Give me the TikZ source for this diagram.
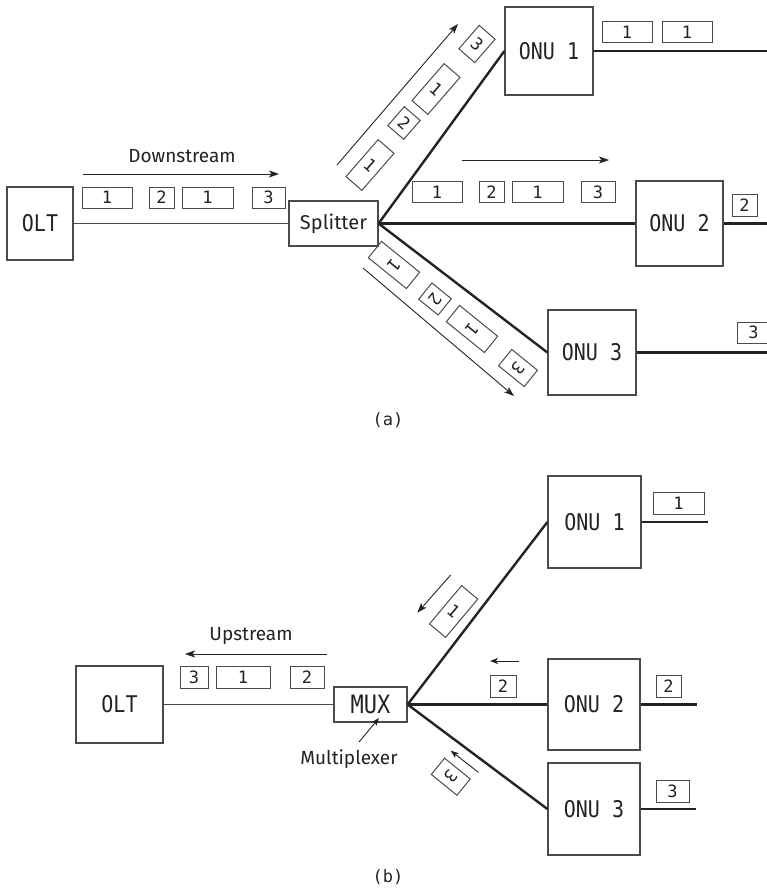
\documentclass[tikz,border=0pt]{standalone}
\usepackage{graphicx}
\usepackage{fontspec}
\setmainfont{Fira Sans}
\newfontfamily\monof{DejaVu Sans Mono}
\usetikzlibrary{arrows.meta}
\definecolor{ink}{RGB}{35,35,35}
\definecolor{boxc}{RGB}{75,75,75}
\newcommand{\devlab}[1]{\scalebox{1}[1.15]{#1}}
\begin{document}
\begin{tikzpicture}[x=1pt,y=-1pt,
  devbox/.style n args={2}{draw=boxc,line width=1.2pt,minimum width=#1,minimum height=#2,
    inner sep=0pt,font=\monof\fontsize{20}{20}\selectfont,text=ink},
  pkt/.style={draw=boxc,line width=1pt,minimum width=#1,minimum height=21pt,inner sep=0pt,
    font=\monof\fontsize{17}{17}\selectfont,text=ink},
  dpkt/.style n args={2}{pkt=#1,rotate=#2},
  thinl/.style={draw=boxc,line width=1.1pt},
  thickl/.style={draw=ink,line width=2.4pt},
  arr/.style={draw=ink,line width=0.9pt,-{Stealth[length=10pt,width=7pt,inset=2.5pt]}},
  lbl/.style={font=\fontsize{19}{19}\selectfont,text=ink,inner sep=0pt},
  figcap/.style={font=\monof\fontsize{17}{17}\selectfont,text=ink,inner sep=0pt}]
\useasboundingbox (0,0) rectangle (766,888);

% ================= (a) =================
\node[devbox={66pt}{73pt}] (OLTa) at (40,223.5) {\devlab{OLT}};
\node[devbox={89pt}{45pt},font=\fontsize{20}{20}\selectfont] (SPL) at (333.5,223.5) {Splitter};
\node[devbox={88pt}{88pt}] (ONU1a) at (549,51) {\devlab{ONU 1}};
\node[devbox={87pt}{85pt}] (ONU2a) at (679.5,223.5) {\devlab{ONU 2}};
\node[devbox={88pt}{85pt}] (ONU3a) at (592,352.5) {\devlab{ONU 3}};

\coordinate (E1a) at (770,51);
\coordinate (E2a) at (770,223.5);
\coordinate (E3a) at (770,352.5);

\draw[thinl] (OLTa.east) -- (SPL.west);
\draw[thickl] (SPL.east) -- (ONU1a.west);
\draw[thickl] (SPL.east) -- (ONU2a.west);
\draw[thickl] (SPL.east) -- (ONU3a.west);
\draw[thickl] (ONU1a.east) -- (E1a);
\draw[thickl] (ONU2a.east) -- (E2a);
\draw[thickl] (ONU3a.east) -- (E3a);

% downstream label and arrow
\node[lbl] (DS) at (182,156) {Downstream};
\coordinate (a1s) at (83,174);
\coordinate (a1e) at (279,174);
\draw[arr] (a1s) -- (a1e);

% packets OLT -> splitter
\node[pkt=50pt] (pa1) at (107,197.5) {1};
\node[pkt=25pt] (pa2) at (161.5,197.5) {2};
\node[pkt=51pt] (pa3) at (207.5,197.5) {1};
\node[pkt=33pt] (pa4) at (268.5,197.5) {3};

% upper branch packets
\node[dpkt={49pt}{49}] (pu1) at (370,165) {\rotatebox{-90}{1}};
\node[dpkt={25pt}{49}] (pu2) at (404,123) {\rotatebox{-90}{2}};
\node[dpkt={49pt}{49}] (pu3) at (436,89) {\rotatebox{-90}{1}};
\node[dpkt={31pt}{49}] (pu4) at (477,44) {\rotatebox{-90}{3}};
\coordinate (a2s) at (337,165);
\coordinate (a2e) at (458,24);
\draw[arr] (a2s) -- (a2e);

% middle branch packets
\coordinate (a3s) at (462,160);
\coordinate (a3e) at (609,160);
\draw[arr] (a3s) -- (a3e);
\node[pkt=50pt] (pm1) at (437,192) {1};
\node[pkt=25pt] (pm2) at (491.5,192) {2};
\node[pkt=51pt] (pm3) at (537.5,192) {1};
\node[pkt=34pt] (pm4) at (598,192) {3};

% lower branch packets
\node[dpkt={49pt}{-39}] (pl1) at (394,265) {\rotatebox{-90}{1}};
\node[dpkt={25pt}{-39}] (pl2) at (435,299) {\rotatebox{-90}{2}};
\node[dpkt={49pt}{-39}] (pl3) at (472,329) {\rotatebox{-90}{1}};
\node[dpkt={33pt}{-39}] (pl4) at (518,368) {\rotatebox{-90}{3}};
\coordinate (a4s) at (363,268);
\coordinate (a4e) at (514,396);
\draw[arr] (a4s) -- (a4e);

% packets after ONUs
\node[pkt=50pt] (po1) at (627,32.5) {1};
\node[pkt=50pt] (po2) at (687,32.5) {1};
\node[pkt=25pt,minimum height=22pt] (po3) at (744.5,205) {2};
\node[pkt=33pt] (po4) at (753.5,332.5) {3};

\node[figcap] (capa) at (388,420) {(a)};

% ================= (b) =================
\node[devbox={87pt}{77pt}] (OLTb) at (119.5,704.5) {\devlab{OLT}};
\node[devbox={73pt}{35pt},font=\monof\fontsize{22}{22}\selectfont] (MUX) at (370.5,704.5) {\devlab{MUX}};
\node[devbox={93pt}{92pt}] (ONU1b) at (594.5,522) {\devlab{ONU 1}};
\node[devbox={92pt}{91pt}] (ONU2b) at (594,704.5) {\devlab{ONU 2}};
\node[devbox={92pt}{92pt}] (ONU3b) at (594,809) {\devlab{ONU 3}};

\coordinate (E1b) at (708,522);
\coordinate (E2b) at (697,704.5);
\coordinate (E3b) at (696,809);

\draw[thinl] (OLTb.east) -- (MUX.west);
\draw[thickl] (MUX.east) -- (ONU1b.west);
\draw[thickl] (MUX.east) -- (ONU2b.west);
\draw[thickl] (MUX.east) -- (ONU3b.west);
\draw[thickl] (ONU1b.east) -- (E1b);
\draw[thickl] (ONU2b.east) -- (E2b);
\draw[thickl] (ONU3b.east) -- (E3b);

% upstream label and arrow
\node[lbl] (US) at (251,636) {Upstream};
\coordinate (b1s) at (327,654);
\coordinate (b1e) at (185,654);
\draw[arr] (b1s) -- (b1e);

\node[pkt=28pt,minimum height=22pt] (qb1) at (194,677) {3};
\node[pkt=54pt,minimum height=22pt] (qb2) at (243,677) {1};
\node[pkt=34pt,minimum height=22pt] (qb3) at (307,677) {2};

% multiplexer label
\node[lbl] (MX) at (349,759) {Multiplexer};
\coordinate (b5s) at (359,742);
\coordinate (b5e) at (379,718);
\draw[arr,-{Stealth[length=8pt,width=6pt,inset=2pt]}] (b5s) -- (b5e);

% branch packets
\node[dpkt={50pt}{50}] (qu1) at (453.6,611.5) {\rotatebox{-90}{1}};
\coordinate (b2s) at (450.7,575);
\coordinate (b2e) at (417.3,612.7);
\draw[arr] (b2s) -- (b2e);

\coordinate (b3s) at (519,661);
\coordinate (b3e) at (490,661);
\draw[arr,-{Stealth[length=8pt,width=6pt,inset=2pt]}] (b3s) -- (b3e);
\node[pkt=26pt,minimum height=22pt] (qm1) at (503,686) {2};

\node[dpkt={33pt}{-39}] (ql1) at (450.75,776.7) {\rotatebox{-90}{3}};
\coordinate (b4s) at (478.3,772.3);
\coordinate (b4e) at (450.7,750.7);
\draw[arr,-{Stealth[length=8pt,width=6pt,inset=2pt]}] (b4s) -- (b4e);

% packets after ONUs
\node[pkt=51pt,minimum height=22pt] (qo1) at (678.5,503) {1};
\node[pkt=25pt,minimum height=22pt] (qo2) at (668.5,686) {2};
\node[pkt=33pt,minimum height=22pt] (qo3) at (672.5,791) {3};

\node[figcap] (capb) at (388,877) {(b)};
\end{tikzpicture}
\end{document}
